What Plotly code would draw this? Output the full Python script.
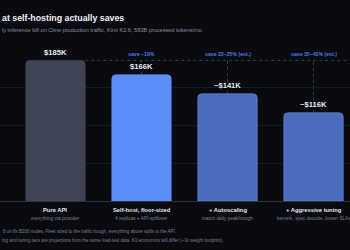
import plotly.graph_objects as go

categories = ["Pure API", "Self-host, floor-sized", "+ Autoscaling", "+ Aggressive tuning"]
sublabels = ["everything via provider", "4 replicas + API spillover",
             "match daily peak/trough", "kernels, spec decode, looser SLAs"]
costs_k = [185, 166, 141, 116]
value_labels = ["$185K", "$166K", "~$141K", "~$116K"]
save_labels = ["", "save ~10%", "save 22–25% (est.)", "save 35–40% (est.)"]
bar_colors = ["#3f4457", "#5b8cf7", "#4a6cbd", "#4a6cbd"]
line_colors = ["#3f4457", "#5b8cf7", "#6a8ad6", "#6a8ad6"]
grid_ticks = [0, 50, 100, 150, 200]

# visible parts of the header / footer texts (the reference is cropped at the left)
title = "at self-hosting actually saves"
subtitle = "ly inference bill on Cline production traffic, Kimi K2.6, 583B processed tokens/mo"
foot1 = "8 on 8x B200 nodes. Fleet sized to the traffic trough, everything above spills to the API."
foot2 = "ing and tuning tiers are projections from the same load-test data. K3 economics will differ (~3x weight footprint)."

W, H = 350, 250
ML, MR, MT, MB = 0, 0, 49, 49
PH = H - MT - MB
BAR_W = 0.69
XR = [-0.645, 3.424]
FONT = "Liberation Sans"
BG = "#0a0b10"

def py(p):  # pixel from top -> paper y
    return (H - MB - p) / PH

def px(p):
    return p / W

xs = list(range(len(categories)))

fig = go.Figure()
fig.add_trace(go.Bar(
    x=xs, y=costs_k, width=BAR_W,
    marker=dict(color=bar_colors, line=dict(color=line_colors, width=0.7)),
    hoverinfo="skip",
))

shapes = []
ref = costs_k[0]
shapes.append(dict(type="line", xref="x", yref="y", x0=xs[0] + BAR_W / 2, x1=XR[1],
                   y0=ref, y1=ref, line=dict(color="#3a3e4a", width=1, dash="dot"), layer="below"))
for xi, v in zip(xs[1:], costs_k[1:]):
    shapes.append(dict(type="line", xref="x", yref="y", x0=xi, x1=xi, y0=v, y1=ref,
                       line=dict(color="#3a3e4a", width=1, dash="dot"), layer="below"))

ann = []
ann.append(dict(text=title, xref="paper", yref="paper", x=px(0), y=py(17.5),
                xanchor="left", yanchor="middle", showarrow=False,
                font=dict(family=FONT, size=8.8, color="#f2f2f4", weight=700)))
ann.append(dict(text=subtitle, xref="paper", yref="paper", x=px(0), y=py(30),
                xanchor="left", yanchor="middle", showarrow=False,
                font=dict(family=FONT, size=5.6, color="#8a8d98")))
for xi, v, lab in zip(xs, costs_k, value_labels):
    ann.append(dict(text=lab, xref="x", yref="y", x=xi, y=v, yshift=8,
                    xanchor="center", yanchor="middle", showarrow=False,
                    font=dict(family=FONT, size=7.6, color="#e8e9ee", weight=700)))
for xi, lab in zip(xs, save_labels):
    if lab:
        ann.append(dict(text=lab, xref="x", yref="y", x=xi, y=ref, yshift=6,
                        xanchor="center", yanchor="middle", showarrow=False,
                        font=dict(family=FONT, size=5.2, color="#4f78e0", weight=600)))
for xi, c, s in zip(xs, categories, sublabels):
    ann.append(dict(text=c, xref="x", yref="y", x=xi, y=0, yshift=-9,
                    xanchor="center", yanchor="middle", showarrow=False,
                    font=dict(family=FONT, size=5.8, color="#e6e7ec", weight=700)))
    ann.append(dict(text=s, xref="x", yref="y", x=xi, y=0, yshift=-17,
                    xanchor="center", yanchor="middle", showarrow=False,
                    font=dict(family=FONT, size=4.8, color="#7c7f8a")))
ann.append(dict(text=foot1, xref="paper", yref="paper", x=px(0.5), y=py(231.5),
                xanchor="left", yanchor="middle", showarrow=False,
                font=dict(family=FONT, size=4.5, color="#7c7f8a")))
ann.append(dict(text=foot2, xref="paper", yref="paper", x=px(0), y=py(240),
                xanchor="left", yanchor="middle", showarrow=False,
                font=dict(family=FONT, size=4.5, color="#7c7f8a")))

fig.update_layout(
    width=W, height=H, margin=dict(l=ML, r=MR, t=MT, b=MB),
    paper_bgcolor=BG, plot_bgcolor=BG,
    showlegend=False, barcornerradius=4,
    shapes=shapes, annotations=ann,
    xaxis=dict(range=XR, showticklabels=False, showgrid=False, zeroline=False,
               fixedrange=True),
    yaxis=dict(range=[0, 200], tickvals=grid_ticks, showticklabels=False,
               gridcolor="#191b23", gridwidth=1, zeroline=True,
               zerolinecolor="#30333d", zerolinewidth=1, fixedrange=True),
)

fig.write_html("out.html", config={"displayModeBar": False})
